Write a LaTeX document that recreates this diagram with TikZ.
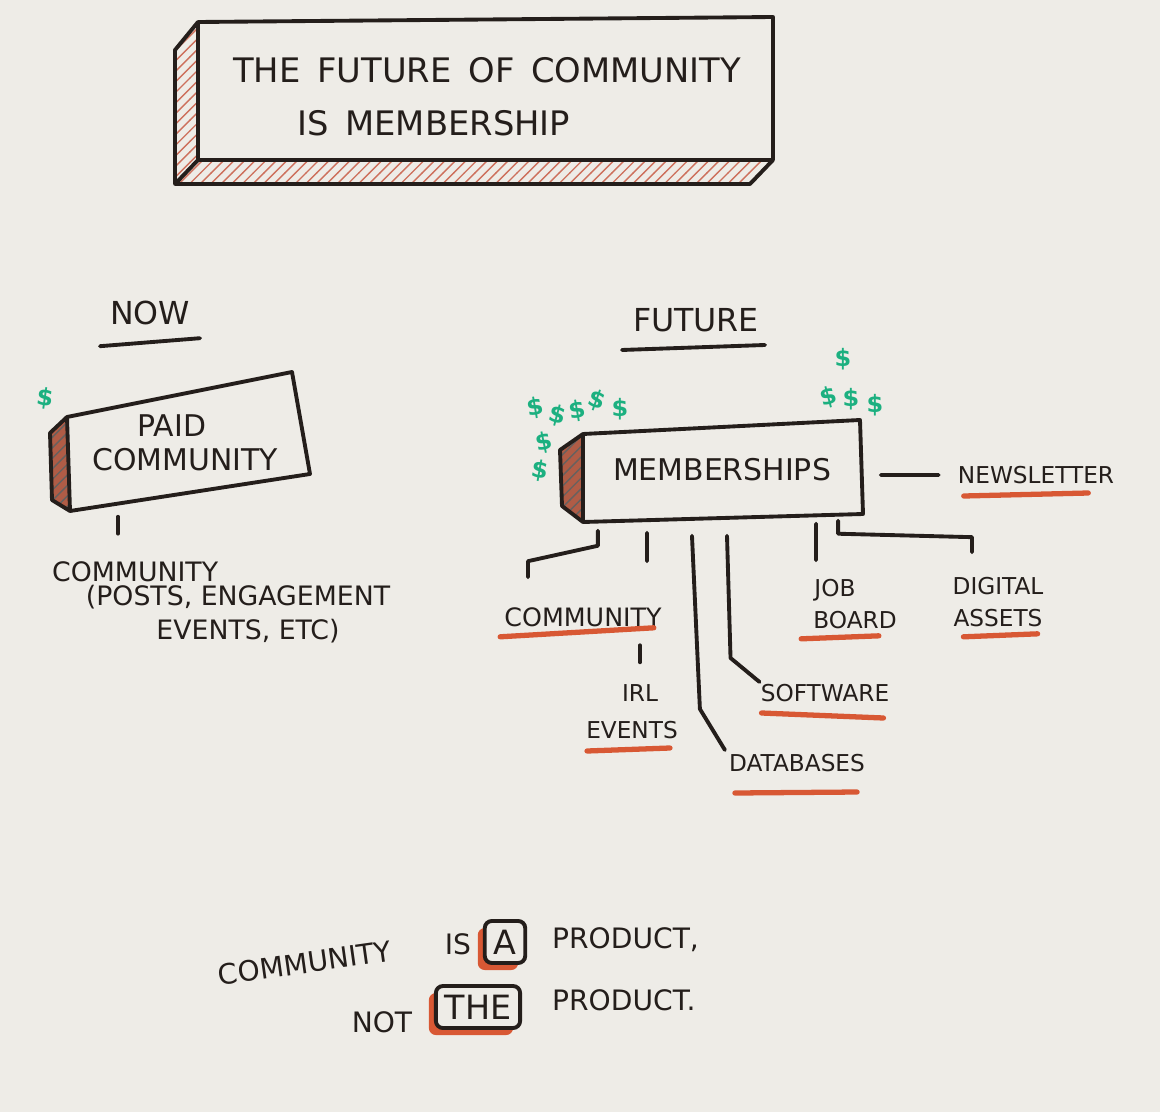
\documentclass[tikz,border=0pt]{standalone}
\usepackage{fontspec}
\setmainfont{DejaVu Sans}
\usetikzlibrary{positioning,patterns,shadows}
\definecolor{paper}{RGB}{238,236,231}
\definecolor{ink}{RGB}{36,30,27}
\definecolor{markred}{RGB}{216,88,52}
\definecolor{hatchred}{RGB}{205,112,92}
\definecolor{sidered}{RGB}{176,92,70}
\definecolor{cashgreen}{RGB}{28,176,128}
\newcommand{\penfont}[2]{\fontsize{#1}{#2}\selectfont}

\begin{document}
\begin{tikzpicture}[x=0.01cm, y=-0.01cm,
        ink line/.style={draw=ink, line width=1.1pt, line cap=round, line join=round},
        redline/.style={draw=markred, line width=1.5pt, line cap=round},
        hatch/.style={pattern=north east lines, pattern color=hatchred},
        sidehatch/.style={pattern=north east lines, pattern color=ink!70},
        titletext/.style={text=ink, font=\penfont{9.6pt}{12pt}, inner sep=1pt},
        heading/.style={text=ink, font=\penfont{9pt}{11pt}, inner sep=1pt},
        boxlabel/.style={text=ink, font=\penfont{8.5pt}{9.5pt}, align=center, inner sep=1pt},
        leaf/.style={text=ink, font=\penfont{6.6pt}{9pt}, align=center, inner sep=1pt},
        note/.style={text=ink, font=\penfont{7.6pt}{9.5pt}, align=center, inner sep=1pt},
        statement/.style={text=ink, font=\penfont{8pt}{10pt}, inner sep=1pt},
        cash/.style={text=cashgreen, font=\bfseries\penfont{6.8pt}{7pt}, inner sep=0pt},
        wordbox/.style={draw=ink, line width=1.1pt, rounded corners=2pt, fill=paper, text=ink, font=\penfont{9.5pt}{10pt}, inner sep=2.5pt, minimum height=0.42cm, drop shadow={shadow xshift=-2pt, shadow yshift=-2pt, fill=markred, opacity=1}}
    ]
    \useasboundingbox (0,0) rectangle (1160,1112);
    \fill[paper] (0,0) rectangle (1160,1112);

    % title block
    \path[hatch] (198,22) -- (175,50) -- (175,184) -- (198,160) -- cycle;
    \path[hatch] (198,160) -- (175,184) -- (750,184) -- (773,160) -- cycle;
    \draw[ink line] (198,22) -- (773,17) -- (773,160) -- (198,160) -- cycle;
    \draw[ink line] (198,22) -- (175,50) -- (175,184) -- (750,184) -- (773,160);
    \draw[ink line] (175,184) -- (198,160);
    \node[titletext] (title) at (487,70) {THE\enspace FUTURE\enspace OF\enspace COMMUNITY};
    \node[titletext, anchor=west] (subtitle) at (293,123) {IS\enspace MEMBERSHIP};

    % now
    \node[heading] (now) at (150,313) {NOW};
    \draw[ink line] ([xshift=-0.5cm,yshift=-0.17cm]now.south) -- ([xshift=0.5cm,yshift=-0.09cm]now.south);
    \fill[sidered] (50,433) -- (67,417) -- (70,511) -- (52,500) -- cycle;
    \path[sidehatch] (50,433) -- (67,417) -- (70,511) -- (52,500) -- cycle;
    \draw[ink line] (50,433) -- (67,417) -- (70,511) -- (52,500) -- cycle;
    \draw[ink line] (67,417) -- (292,372) -- (310,474) -- (70,511);
    \node[boxlabel, minimum width=2.3cm, minimum height=1cm] (paid) at (172,443) {PAID\\\hspace*{0.26cm}COMMUNITY};
    \node[cash, rotate=-8] (cashP) at (45,398) {\$};
    \node[note, anchor=west] (nowcomm) at (48,572) {COMMUNITY};
    \node[note] (nowdetail) at (238,614) {(POSTS, ENGAGEMENT\\\hspace*{0.2cm}EVENTS, ETC)};
    \coordinate (ptick) at ([xshift=-0.54cm,yshift=-0.23cm]paid.south);
    \draw[ink line, shorten >=0.24cm] (ptick) -- (ptick |- nowcomm.north);

    % future
    \node[heading] (future) at (696,320) {FUTURE};
    \draw[ink line] ([xshift=-0.74cm,yshift=-0.14cm]future.south) -- ([xshift=0.69cm,yshift=-0.09cm]future.south);
    \fill[sidered] (560,450) -- (583,434) -- (583,522) -- (562,506) -- cycle;
    \path[sidehatch] (560,450) -- (583,434) -- (583,522) -- (562,506) -- cycle;
    \draw[ink line] (560,450) -- (583,434) -- (583,522) -- (562,506) -- cycle;
    \draw[ink line] (583,434) -- (860,420) -- (863,514) -- (583,522);
    \node[boxlabel, minimum width=2.8cm, minimum height=0.9cm] (memb) at (722,470) {MEMBERSHIPS};

    % money
    \node[cash, rotate=10] (cash1) at (535,408) {\$};
    \node[cash, rotate=-15] (cash2) at (557,416) {\$};
    \node[cash, rotate=10] (cash3) at (577,411) {\$};
    \node[cash, rotate=-20] (cash4) at (597,400) {\$};
    \node[cash] (cash5) at (620,409) {\$};
    \node[cash, rotate=12] (cash6) at (544,443) {\$};
    \node[cash, rotate=-10] (cash7) at (540,471) {\$};
    \node[cash] (cash8) at (843,359) {\$};
    \node[cash, rotate=15] (cash9) at (829,397) {\$};
    \node[cash] (cash10) at (851,399) {\$};
    \node[cash] (cash11) at (875,405) {\$};

    % branches
    \node[leaf] (news) at (1036,475) {NEWSLETTER};
    \node[leaf, font=\penfont{7.2pt}{9pt}] (comm) at (583,617) {COMMUNITY};
    \node[leaf] (irl) at (640,693) {IRL};
    \node[leaf] (events) at (632,730) {EVENTS};
    \node[leaf] (data) at (797,763) {DATABASES};
    \node[leaf] (soft) at (825,693) {SOFTWARE};
    \node[leaf] (job) at (835,604) {JOB\\\hspace*{0.4cm}BOARD};
    \node[leaf] (dig) at (998,602) {DIGITAL\\ASSETS};

    \coordinate (mcomm) at ([xshift=-1.24cm,yshift=-0.15cm]memb.south);
    \coordinate (mirl) at ([xshift=-0.75cm,yshift=-0.17cm]memb.south);
    \coordinate (mdata) at ([xshift=-0.30cm,yshift=-0.2cm]memb.south);
    \coordinate (msoft) at ([xshift=0.05cm,yshift=-0.2cm]memb.south);
    \coordinate (mjob) at ([xshift=0.94cm,yshift=-0.08cm]memb.south);
    \coordinate (mdig) at ([xshift=1.16cm,yshift=-0.05cm]memb.south);

    \draw[ink line] ([xshift=0.18cm,yshift=-0.05cm]memb.east) -- ([xshift=-0.15cm]news.west);
    \draw[ink line] (mcomm) -- ++(0,15) -- ([xshift=-0.55cm,yshift=0.42cm]comm.north) -- ([xshift=-0.55cm,yshift=0.26cm]comm.north);
    \draw[ink line] (mirl) -- ([xshift=0.64cm,yshift=0.42cm]comm.north);
    \draw[ink line] ([yshift=0.35cm]irl.north) -- ([yshift=0.18cm]irl.north);
    \draw[ink line] (mdata) -- ([xshift=-0.25cm,yshift=0.41cm]data.north west) -- (data.north west);
    \draw[ink line] (msoft) -- ([xshift=-0.26cm,yshift=0.22cm]soft.north west) -- ([xshift=0.03cm,yshift=-0.02cm]soft.north west);
    \draw[ink line] (mjob) -- ([xshift=-0.19cm,yshift=0.15cm]job.north);
    \draw[ink line] (mdig) -- ++(0,13) -- ([xshift=-0.26cm,yshift=0.36cm]dig.north) -- ([xshift=-0.26cm,yshift=0.21cm]dig.north);

    % underlines
    \draw[redline] ([xshift=0.1cm,yshift=-0.08cm]news.south west) -- ([xshift=-0.3cm,yshift=-0.05cm]news.south east);
    \draw[redline] ([yshift=-0.06cm]comm.south west) -- ([xshift=-0.12cm,yshift=0.03cm]comm.south east);
    \draw[redline] ([xshift=0.05cm,yshift=-0.08cm]events.south west) -- ([xshift=-0.12cm,yshift=-0.05cm]events.south east);
    \draw[redline] ([xshift=0.1cm,yshift=-0.17cm]data.south west) -- ([xshift=-0.12cm,yshift=-0.16cm]data.south east);
    \draw[redline] ([xshift=0.05cm,yshift=-0.07cm]soft.south west) -- ([xshift=-0.1cm,yshift=-0.12cm]soft.south east);
    \draw[redline] ([xshift=0.32cm,yshift=-0.06cm]job.south west) -- ([xshift=-0.22cm,yshift=-0.03cm]job.south east);
    \draw[redline] ([xshift=0.15cm,yshift=-0.06cm]dig.south west) -- ([xshift=-0.1cm,yshift=-0.03cm]dig.south east);

    % closing line
    \node[statement, rotate=8] (commis) at (305,963) {COMMUNITY};
    \node[statement] (is) at (458,944) {IS};
    \node[wordbox] (a) at (505,942) {A};
    \node[statement, anchor=west] (prod1) at (548,940) {PRODUCT,};
    \node[statement] (not) at (382,1022) {NOT};
    \node[wordbox] (the) at (478,1007) {THE};
    \node[statement, anchor=west] (prod2) at (548,1000) {PRODUCT.};
\end{tikzpicture}
\end{document}
